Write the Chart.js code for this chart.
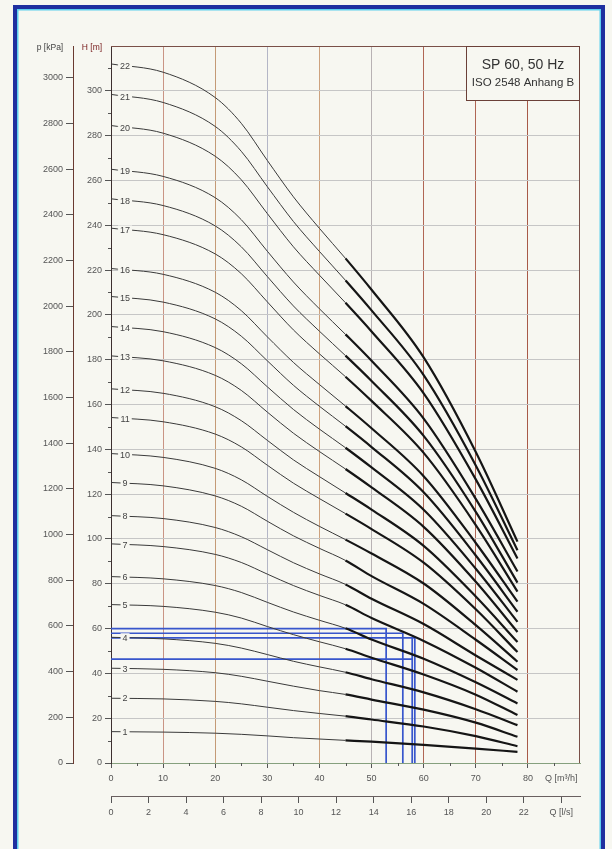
<!DOCTYPE html>
<html>
<head>
<meta charset="utf-8">
<script src="https://cdn.jsdelivr.net/npm/chart.js"></script>
<style>
  html, body { margin: 0; padding: 0; background: #f7f7f1; }
  #wrap { position: relative; width: 612px; height: 849px; overflow: hidden; }
  #frame { position: absolute; left: 13px; top: 5px; width: 584px; height: 900px; border: 4px solid #1f2fa0; box-shadow: inset 0 0 0 1.5px #5ccfee; }
  canvas { position: absolute; left: 0; top: 0; }
</style>
</head>
<body>
<div id="wrap"><div id="frame"></div><canvas id="grafico" width="612" height="849"></canvas></div>
<script>
const qPoints = [0, 10, 20, 25, 30, 35, 40, 45, 50, 60, 70, 78];

// Förderhöhe H [m] je Stufenzahl
const h1  = [14.0, 13.8, 13.3, 12.8, 12.1, 11.3, 10.7, 10.1, 9.5, 8.1, 6.4, 5.0];
const h2  = [28.9, 28.6, 27.5, 26.4, 24.9, 23.4, 22.1, 20.9, 19.4, 16.3, 12.0, 7.5];
const h3  = [42.3, 41.8, 40.3, 38.7, 36.5, 34.3, 32.3, 30.6, 28.3, 23.8, 18.0, 11.7];
const h4  = [56.1, 55.4, 53.4, 51.3, 48.4, 45.4, 42.9, 40.5, 37.4, 31.5, 24.0, 16.9];
const h5  = [70.7, 69.9, 67.3, 64.7, 60.9, 57.3, 54.1, 51.0, 47.0, 39.5, 30.5, 21.4];
const h6  = [83.2, 82.2, 79.2, 76.1, 71.7, 67.4, 63.7, 60.1, 55.1, 46.5, 36.0, 26.6];
const h7  = [97.8, 96.6, 93.1, 89.5, 84.3, 79.2, 74.8, 70.6, 64.7, 54.5, 42.5, 31.8];
const h8  = [110.4, 109.1, 105.1, 101.0, 95.2, 89.4, 84.4, 79.7, 73.3, 62.0, 48.0, 37.1];
const h9  = [125.2, 123.7, 119.2, 114.6, 107.9, 101.4, 95.8, 90.4, 83.4, 71.0, 55.0, 41.5];
const h10 = [138.1, 136.4, 131.5, 126.4, 119.0, 111.9, 105.6, 99.7, 93.5, 80.1, 61.5, 45.2];
const h11 = [154.2, 152.3, 146.8, 141.1, 132.9, 124.9, 118.0, 111.3, 104.4, 89.4, 68.6, 49.5];
const h12 = [167.0, 165.0, 159.0, 152.8, 144.0, 135.3, 127.8, 120.5, 113.1, 96.9, 74.3, 54.0];
const h13 = [181.7, 179.5, 173.0, 166.3, 156.6, 147.2, 139.0, 131.2, 123.0, 105.4, 80.9, 58.5];
const h14 = [194.8, 192.5, 185.4, 178.2, 167.9, 157.8, 149.0, 140.7, 131.9, 113.0, 86.7, 63.0];
const h15 = [208.2, 205.7, 198.2, 190.5, 179.5, 168.6, 159.2, 150.3, 141.0, 120.8, 92.6, 67.5];
const h16 = [220.7, 218.1, 210.1, 201.9, 190.2, 178.8, 168.9, 159.3, 149.4, 128.0, 98.2, 72.0];
const h17 = [238.7, 235.8, 227.2, 218.4, 205.8, 193.3, 182.6, 172.4, 161.6, 138.4, 106.2, 76.5];
const h18 = [251.8, 248.8, 239.7, 230.4, 217.1, 204.0, 192.7, 181.8, 170.5, 146.0, 112.1, 80.5];
const h19 = [265.0, 261.8, 252.3, 242.5, 228.4, 214.7, 202.7, 191.3, 179.5, 153.7, 117.9, 85.5];
const h20 = [284.5, 281.1, 270.8, 260.3, 245.2, 230.4, 217.7, 205.4, 192.6, 165.0, 126.6, 91.3];
const h21 = [298.4, 294.8, 284.1, 273.0, 257.2, 241.7, 228.3, 215.4, 202.0, 173.1, 132.8, 95.0];
const h22 = [312.0, 308.3, 297.0, 285.5, 268.9, 252.7, 238.6, 225.2, 211.2, 181.0, 138.8, 98.8];

const curves = [h1, h2, h3, h4, h5, h6, h7, h8, h9, h10, h11, h12, h13, h14, h15, h16, h17, h18, h19, h20, h21, h22];
const stageLabels = curves.map((_, i) => String(i + 1));

// Betriebspunkte (blaue Hilfslinien)
const dutyQ = [52.8, 56.0, 58.3, 57.8];
const dutyH = [60.0, 57.9, 55.8, 46.4];
const dutyTop = [60.0, 57.9, 55.8, 55.8];

const thickFrom = 45;          // ab hier Kennlinie fett
const hMax = 320, qMax = 90;
const kPaPerM = 9.81;
const bg = '#f7f7f1';
const font = '"Liberation Sans", Arial, sans-serif';

const datasets = [];
curves.forEach((h, i) => {
  datasets.push({
    label: stageLabels[i],
    data: qPoints.map((q, j) => ({ x: q, y: h[j] })),
    borderColor: '#3a3a3a',
    borderWidth: 1,
    pointRadius: 0,
    cubicInterpolationMode: 'monotone',
    order: 0,
    segment: {
      borderWidth: c => c.p0.parsed.x >= thickFrom ? 2.2 : 1,
      borderColor: c => c.p0.parsed.x >= thickFrom ? '#151515' : '#3a3a3a'
    }
  });
});
dutyQ.forEach((q, i) => {
  datasets.push({
    data: [{ x: 0, y: dutyH[i] }, { x: q, y: dutyH[i] }, { x: q, y: dutyTop[i] }, { x: q, y: 0 }],
    borderColor: '#3856cc',
    borderWidth: 1.7,
    pointRadius: 0,
    tension: 0,
    order: 1
  });
});

// Farben der senkrechten Gitterlinien
const vCol = ['', '#c99484', '#c49a76', '#b4b6c6', '#cda27e', '#b8b2b4', '#b06654', '#b06654', '#a85a48'];

const extras = {
  id: 'extras',
  afterDatasetsDraw(chart) {
    const { ctx, scales: { x, y } } = chart;
    ctx.save();
    ctx.font = '9px ' + font;
    ctx.textAlign = 'center';
    ctx.textBaseline = 'middle';
    curves.forEach((h, i) => {
      const px = x.getPixelForValue(2.7);
      const py = y.getPixelForValue(h[0] + (h[1] - h[0]) * 0.27);
      const w = ctx.measureText(stageLabels[i]).width + 4;
      ctx.fillStyle = bg;
      ctx.fillRect(px - w / 2, py - 4.5, w, 9);
      ctx.fillStyle = '#444';
      ctx.fillText(stageLabels[i], px, py + 0.5);
    });
    ctx.restore();
  },
  afterDraw(chart) {
    const { ctx, chartArea: a, scales: { x, y } } = chart;
    ctx.save();
    // kurze Zwischenstriche
    ctx.strokeStyle = '#555';
    ctx.lineWidth = 1;
    ctx.beginPath();
    for (let v = 10; v < hMax; v += 20) {
      const py = Math.round(y.getPixelForValue(v)) + 0.5;
      ctx.moveTo(a.left - 3, py); ctx.lineTo(a.left, py);
    }
    for (let v = 5; v < qMax; v += 10) {
      const px = Math.round(x.getPixelForValue(v)) + 0.5;
      ctx.moveTo(px, a.bottom); ctx.lineTo(px, a.bottom + 3);
    }
    ctx.stroke();
    // Rahmen oben/rechts
    ctx.strokeStyle = '#7a5048';
    ctx.beginPath();
    ctx.moveTo(a.left, a.top + 0.5);
    ctx.lineTo(a.right - 0.5, a.top + 0.5);
    ctx.lineTo(a.right - 0.5, a.bottom);
    ctx.stroke();
    // Typenschild
    const bx = a.right - 114, by = a.top, bw = 114, bh = 55;
    ctx.fillStyle = bg;
    ctx.fillRect(bx, by, bw, bh);
    ctx.strokeStyle = '#6b4038';
    ctx.strokeRect(bx + 0.5, by + 0.5, bw - 1, bh - 1);
    ctx.fillStyle = '#333';
    ctx.textAlign = 'center';
    ctx.textBaseline = 'middle';
    ctx.font = '14px ' + font;
    ctx.fillText('SP 60, 50 Hz', bx + bw / 2, by + 19);
    ctx.font = '11.5px ' + font;
    ctx.fillText('ISO 2548 Anhang B', bx + bw / 2, by + 37);
    // Achsentitel oben
    ctx.font = '8.5px ' + font;
    ctx.fillStyle = '#444';
    ctx.fillText('p [kPa]', 50, a.top + 2);
    ctx.fillStyle = '#7a2020';
    ctx.fillText('H [m]', 92, a.top + 2);
    ctx.restore();
  }
};

const tickFont = { family: font, size: 9 };

new Chart(document.getElementById('grafico').getContext('2d'), {
  type: 'line',
  data: { datasets },
  options: {
    responsive: false,
    animation: false,
    layout: { padding: { left: 30, right: 32, top: 46, bottom: 24 } },
    plugins: { legend: { display: false }, tooltip: { enabled: false } },
    scales: {
      x: {
        type: 'linear', position: 'bottom', min: 0, max: qMax, weight: 0,
        afterBuildTicks: s => {
          s.ticks = s.ticks.filter(t => t.value < qMax && t.value % 10 === 0);
          s.ticks.push({ value: 86.4 });
        },
        afterFit: s => { s.height = 33; },
        ticks: {
          stepSize: 5, autoSkip: false, maxRotation: 0, color: '#555', font: tickFont, padding: 5,
          callback: v => v === 86.4 ? 'Q [m³/h]' : String(v)
        },
        grid: {
          color: c => c.tick && c.tick.value % 10 === 0 ? (vCol[c.tick.value / 10] || 'transparent') : 'transparent',
          tickColor: c => c.tick && c.tick.value === 86.4 ? 'transparent' : '#555',
          tickLength: 5
        },
        border: { color: '#86a07e' }
      },
      q: {
        type: 'linear', position: 'bottom', min: 0, max: qMax / 3.6, weight: 1,
        afterBuildTicks: s => { s.ticks = s.ticks.filter(t => t.value <= 24); },
        afterFit: s => { s.height = 29; },
        ticks: {
          stepSize: 2, autoSkip: false, maxRotation: 0, color: '#555', font: tickFont, padding: 4,
          callback: v => v === 24 ? 'Q [l/s]' : String(v)
        },
        grid: { drawOnChartArea: false, tickColor: '#555', tickLength: 7 },
        border: { color: '#6a6060' }
      },
      y: {
        type: 'linear', position: 'left', min: 0, max: hMax, weight: 0,
        afterBuildTicks: s => { s.ticks = s.ticks.filter(t => t.value % 20 === 0 && t.value < hMax); },
        afterFit: s => { s.width = 38; },
        ticks: {
          stepSize: 20, autoSkip: false, color: '#555', font: tickFont, padding: 3,
          callback: v => String(v)
        },
        grid: {
          color: c => c.tick && c.tick.value > 0 ? '#c6c6c6' : 'transparent',
          tickColor: '#555',
          tickLength: 6
        },
        border: { color: '#3d3030' }
      },
      p: {
        type: 'linear', position: 'left', min: 0, max: hMax * kPaPerM, weight: 1,
        afterBuildTicks: s => { s.ticks = s.ticks.filter(t => t.value <= 3000); },
        afterFit: s => { s.width = 43; },
        ticks: { stepSize: 200, autoSkip: false, color: '#555', font: tickFont, padding: 3, callback: v => String(v) },
        grid: { drawOnChartArea: false, tickColor: '#555', tickLength: 7 },
        border: { color: '#6a3a30' }
      }
    }
  },
  plugins: [extras]
});
</script>
</body>
</html>
